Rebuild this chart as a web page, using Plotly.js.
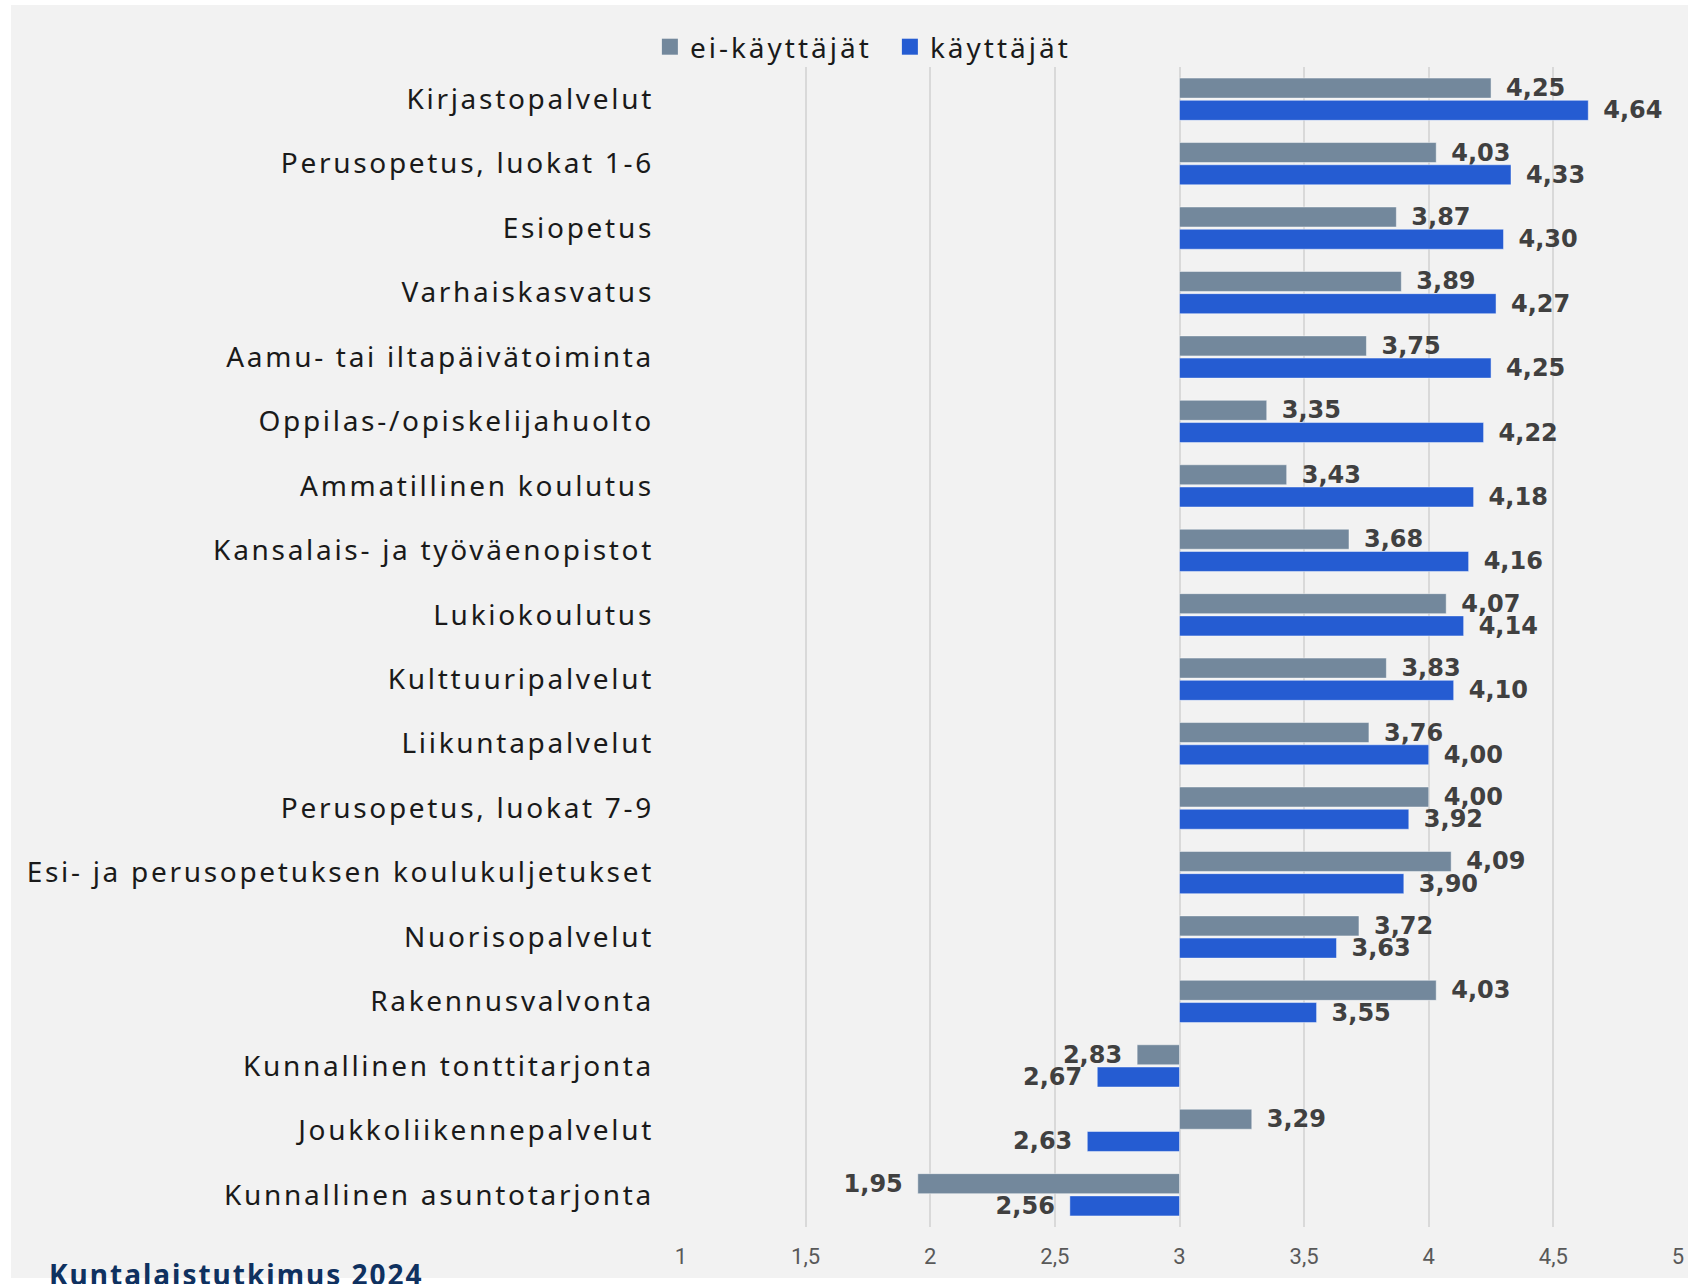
<!DOCTYPE html>
<html>
<head>
<meta charset="utf-8">
<script src="https://cdn.plot.ly/plotly-3.0.1.min.js"></script>
<style>
  html, body { margin: 0; padding: 0; background: #ffffff; }
  #panel { position: absolute; left: 11px; top: 5px; width: 1677px; height: 1273px; background: #f2f2f2; }
  #chart { position: absolute; left: 0; top: 0; width: 1688px; height: 1284px; }
  .ytick text { letter-spacing: 2.7px; }
  .legendtext { letter-spacing: 3px; }
  .annotation-text { letter-spacing: 2px; }
</style>
</head>
<body>
<div id="panel"></div>
<div id="chart"></div>
<script>
const categories = [
  "Kirjastopalvelut",
  "Perusopetus, luokat 1-6",
  "Esiopetus",
  "Varhaiskasvatus",
  "Aamu- tai iltapäivätoiminta",
  "Oppilas-/opiskelijahuolto",
  "Ammatillinen koulutus",
  "Kansalais- ja työväenopistot",
  "Lukiokoulutus",
  "Kulttuuripalvelut",
  "Liikuntapalvelut",
  "Perusopetus, luokat 7-9",
  "Esi- ja perusopetuksen koulukuljetukset",
  "Nuorisopalvelut",
  "Rakennusvalvonta",
  "Kunnallinen tonttitarjonta",
  "Joukkoliikennepalvelut",
  "Kunnallinen asuntotarjonta"
];
const eiKayttajat = [4.25, 4.03, 3.87, 3.89, 3.75, 3.35, 3.43, 3.68, 4.07, 3.83, 3.76, 4.00, 4.09, 3.72, 4.03, 2.83, 3.29, 1.95];
const kayttajat   = [4.64, 4.33, 4.30, 4.27, 4.25, 4.22, 4.18, 4.16, 4.14, 4.10, 4.00, 3.92, 3.90, 3.63, 3.55, 2.67, 2.63, 2.56];
const seriesNames = ["ei-käyttäjät", "käyttäjät"];
const seriesColors = ["#73889c", "#255cd2"];
const tickValues = [1, 1.5, 2, 2.5, 3, 3.5, 4, 4.5, 5];
const tickLabels = ["1", "1,5", "2", "2,5", "3", "3,5", "4", "4,5", "5"];
const baseValue = 3;

const PAD = "\u2002";
function labelFor(v) {
  const s = v.toFixed(2).replace(".", ",");
  return v >= baseValue ? PAD + s : s + PAD;
}

function makeTrace(values, name, color) {
  return {
    type: "bar",
    orientation: "h",
    name: name,
    legendgroup: name,
    showlegend: false,
    y: categories,
    x: values.map(v => v - baseValue),
    base: baseValue,
    marker: { color: color, line: { color: "rgba(255,255,255,0.45)", width: 1 } },
    text: values.map(labelFor),
    textposition: "outside",
    constraintext: "none",
    cliponaxis: false,
    textfont: { family: "DejaVu Sans, sans-serif", size: 24, color: "#404040", weight: 700 },
    hoverinfo: "skip"
  };
}

function legendEntry(name, color) {
  return {
    type: "scatter",
    mode: "markers",
    name: name,
    legendgroup: name,
    x: [null], y: [null],
    marker: { symbol: "square", size: 16, color: color },
    hoverinfo: "skip"
  };
}

const data = [
  makeTrace(eiKayttajat, seriesNames[0], seriesColors[0]),
  makeTrace(kayttajat, seriesNames[1], seriesColors[1]),
  legendEntry(seriesNames[0], seriesColors[0]),
  legendEntry(seriesNames[1], seriesColors[1])
];

const layout = {
  width: 1688,
  height: 1284,
  paper_bgcolor: "rgba(0,0,0,0)",
  plot_bgcolor: "rgba(0,0,0,0)",
  margin: { l: 681, r: 10, t: 67, b: 57, pad: 0, autoexpand: false },
  barmode: "group",
  bargap: 0.31,
  bargroupgap: 0.1,
  font: { family: "Noto Sans, sans-serif", color: "#1a1a1a" },
  showlegend: true,
  legend: {
    orientation: "h",
    xref: "container", yref: "container",
    x: 0.385, y: 1 - 47 / 1284,
    xanchor: "left", yanchor: "middle",
    font: { family: "Noto Sans, sans-serif", size: 28, color: "#1a1a1a" },
    bgcolor: "rgba(0,0,0,0)",
    traceorder: "normal",
    itemwidth: 30,
    entrywidthmode: "pixels",
    entrywidth: 195
  },
  xaxis: {
    range: [1, 5],
    tickvals: tickValues,
    ticktext: tickLabels,
    showgrid: true,
    gridcolor: "#d9d9d9",
    gridwidth: 2,
    zeroline: false,
    showline: false,
    ticks: "",
    ticklabelstandoff: 14,
    tickfont: { family: "Liberation Sans Narrow, Roboto, sans-serif", size: 22, color: "#595959" },
    fixedrange: true
  },
  yaxis: {
    type: "category",
    autorange: "reversed",
    showgrid: false,
    zeroline: false,
    showline: false,
    ticks: "",
    ticklabelstandoff: 26,
    tickfont: { family: "Noto Sans, sans-serif", size: 28, color: "#1a1a1a" },
    fixedrange: true
  },
  annotations: [{
    text: "<b>Kuntalaistutkimus 2024</b>",
    xref: "paper", yref: "paper",
    x: (47 - 681) / 997, y: (1227 - 1274) / 1160,
    xanchor: "left", yanchor: "middle",
    showarrow: false,
    font: { family: "Noto Sans, sans-serif", size: 28, color: "#0f3160" }
  }]
};

Plotly.newPlot("chart", data, layout, { displayModeBar: false, staticPlot: true });
</script>
</body>
</html>
